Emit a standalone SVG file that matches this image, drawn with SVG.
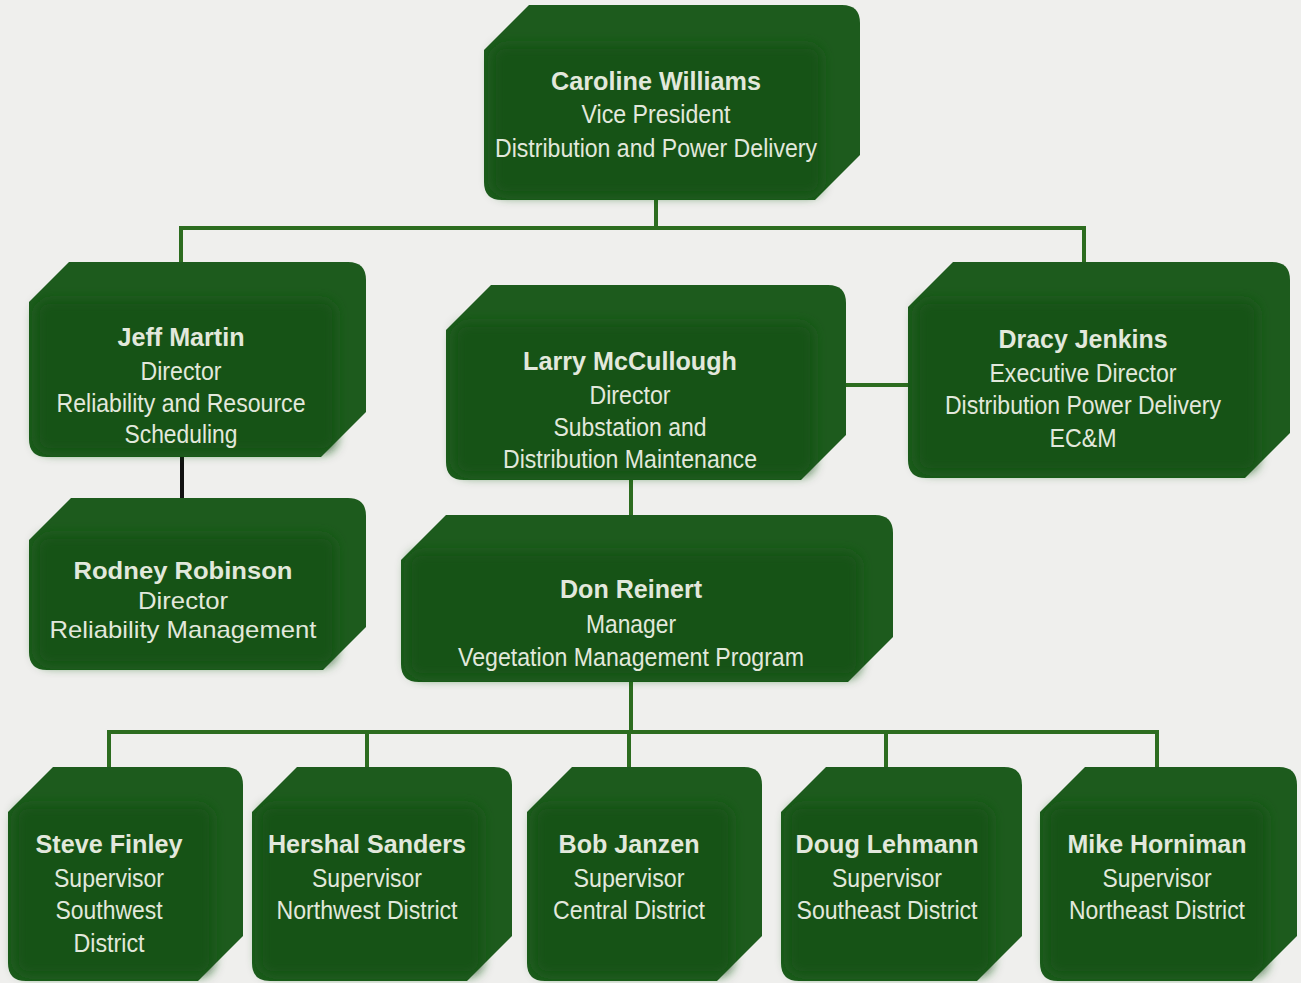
<svg xmlns="http://www.w3.org/2000/svg" width="1301" height="983" viewBox="0 0 1301 983">
<style>
.box{fill:#1d5b1d}
.face{fill:#195219;filter:url(#soft)}
.t{font-family:"Liberation Sans",Arial,sans-serif;font-size:26px;fill:#e2e8dc;text-anchor:middle}
.n{font-weight:bold}
.c{stroke:#2c6c1f;stroke-width:4;fill:none}
.k{stroke:#111;stroke-width:4;fill:none}
</style>
<defs>
<filter id="soft" x="-10%" y="-10%" width="120%" height="120%"><feGaussianBlur stdDeviation="6"/></filter>
</defs>
<rect width="1301" height="983" fill="#efefed"/>
<g id="connectors">
<path class="c" d="M656 200V228M181 228H1084M181 226V262M1084 226V262"/>
<path class="k" d="M182 457V498"/>
<path class="c" d="M846 385H910M631 480V515M631 682V732M109 732H1157M109 730V767M367 730V767M629 730V767M886 730V767M1157 730V767"/>
</g>
<g id="caroline">
<path class="box" d="M529 5H842Q860 5 860 23V155L815 200H502Q484 200 484 182V50Z"/>
<rect class="face" x="492" y="45" width="330" height="150" rx="14"/>
<text class="t n" x="656" y="90" textLength="210" lengthAdjust="spacingAndGlyphs">Caroline Williams</text>
<text class="t" x="656" y="123" textLength="149" lengthAdjust="spacingAndGlyphs">Vice President</text>
<text class="t" x="656" y="157" textLength="322" lengthAdjust="spacingAndGlyphs">Distribution and Power Delivery</text>
</g>
<g id="jeff">
<path class="box" d="M69 262H348Q366 262 366 280V412L321 457H47Q29 457 29 439V302Z"/>
<rect class="face" x="36" y="300" width="300" height="152" rx="14"/>
<text class="t n" x="181" y="346" textLength="127" lengthAdjust="spacingAndGlyphs">Jeff Martin</text>
<text class="t" x="181" y="380" textLength="81" lengthAdjust="spacingAndGlyphs">Director</text>
<text class="t" x="181" y="412" textLength="249" lengthAdjust="spacingAndGlyphs">Reliability and Resource</text>
<text class="t" x="181" y="443" textLength="113" lengthAdjust="spacingAndGlyphs">Scheduling</text>
</g>
<g id="rodney">
<path class="box" d="M71 498H348Q366 498 366 516V627L323 670H47Q29 670 29 652V540Z"/>
<rect class="face" x="36" y="535" width="300" height="130" rx="14"/>
<text class="t n" x="183" y="579" textLength="219" lengthAdjust="spacingAndGlyphs" style="font-size:24px">Rodney Robinson</text>
<text class="t" x="183" y="609" textLength="90" lengthAdjust="spacingAndGlyphs" style="font-size:24px">Director</text>
<text class="t" x="183" y="638" textLength="267" lengthAdjust="spacingAndGlyphs" style="font-size:24px">Reliability Management</text>
</g>
<g id="larry">
<path class="box" d="M491 285H828Q846 285 846 303V435L801 480H464Q446 480 446 462V330Z"/>
<rect class="face" x="454" y="323" width="360" height="152" rx="14"/>
<text class="t n" x="630" y="370" textLength="214" lengthAdjust="spacingAndGlyphs">Larry McCullough</text>
<text class="t" x="630" y="404" textLength="81" lengthAdjust="spacingAndGlyphs">Director</text>
<text class="t" x="630" y="436" textLength="153" lengthAdjust="spacingAndGlyphs">Substation and</text>
<text class="t" x="630" y="468" textLength="254" lengthAdjust="spacingAndGlyphs">Distribution Maintenance</text>
</g>
<g id="dracy">
<path class="box" d="M953 262H1272Q1290 262 1290 280V433L1245 478H926Q908 478 908 460V307Z"/>
<rect class="face" x="916" y="300" width="342" height="172" rx="14"/>
<text class="t n" x="1083" y="348" textLength="169" lengthAdjust="spacingAndGlyphs">Dracy Jenkins</text>
<text class="t" x="1083" y="382" textLength="187" lengthAdjust="spacingAndGlyphs">Executive Director</text>
<text class="t" x="1083" y="414" textLength="276" lengthAdjust="spacingAndGlyphs">Distribution Power Delivery</text>
<text class="t" x="1083" y="447" textLength="67" lengthAdjust="spacingAndGlyphs">EC&amp;M</text>
</g>
<g id="don">
<path class="box" d="M446 515H875Q893 515 893 533V637L848 682H419Q401 682 401 664V560Z"/>
<rect class="face" x="408" y="552" width="452" height="125" rx="14"/>
<text class="t n" x="631" y="598" textLength="142" lengthAdjust="spacingAndGlyphs">Don Reinert</text>
<text class="t" x="631" y="633" textLength="90" lengthAdjust="spacingAndGlyphs">Manager</text>
<text class="t" x="631" y="666" textLength="346" lengthAdjust="spacingAndGlyphs">Vegetation Management Program</text>
</g>
<g id="steve">
<path class="box" d="M53 767H225Q243 767 243 785V936L198 981H26Q8 981 8 963V812Z"/>
<rect class="face" x="15" y="805" width="198" height="170" rx="14"/>
<text class="t n" x="109" y="853" textLength="147" lengthAdjust="spacingAndGlyphs">Steve Finley</text>
<text class="t" x="109" y="887" textLength="110" lengthAdjust="spacingAndGlyphs">Supervisor</text>
<text class="t" x="109" y="919" textLength="107" lengthAdjust="spacingAndGlyphs">Southwest</text>
<text class="t" x="109" y="952" textLength="71" lengthAdjust="spacingAndGlyphs">District</text>
</g>
<g id="hershal">
<path class="box" d="M297 767H494Q512 767 512 785V936L467 981H270Q252 981 252 963V812Z"/>
<rect class="face" x="259" y="805" width="223" height="170" rx="14"/>
<text class="t n" x="367" y="853" textLength="198" lengthAdjust="spacingAndGlyphs">Hershal Sanders</text>
<text class="t" x="367" y="887" textLength="110" lengthAdjust="spacingAndGlyphs">Supervisor</text>
<text class="t" x="367" y="919" textLength="181" lengthAdjust="spacingAndGlyphs">Northwest District</text>
</g>
<g id="bob">
<path class="box" d="M572 767H744Q762 767 762 785V936L717 981H545Q527 981 527 963V812Z"/>
<rect class="face" x="534" y="805" width="198" height="170" rx="14"/>
<text class="t n" x="629" y="853" textLength="141" lengthAdjust="spacingAndGlyphs">Bob Janzen</text>
<text class="t" x="629" y="887" textLength="111" lengthAdjust="spacingAndGlyphs">Supervisor</text>
<text class="t" x="629" y="919" textLength="152" lengthAdjust="spacingAndGlyphs">Central District</text>
</g>
<g id="doug">
<path class="box" d="M826 767H1004Q1022 767 1022 785V936L977 981H799Q781 981 781 963V812Z"/>
<rect class="face" x="788" y="805" width="204" height="170" rx="14"/>
<text class="t n" x="887" y="853" textLength="183" lengthAdjust="spacingAndGlyphs">Doug Lehmann</text>
<text class="t" x="887" y="887" textLength="110" lengthAdjust="spacingAndGlyphs">Supervisor</text>
<text class="t" x="887" y="919" textLength="181" lengthAdjust="spacingAndGlyphs">Southeast District</text>
</g>
<g id="mike">
<path class="box" d="M1085 767H1279Q1297 767 1297 785V936L1252 981H1058Q1040 981 1040 963V812Z"/>
<rect class="face" x="1047" y="805" width="220" height="170" rx="14"/>
<text class="t n" x="1157" y="853" textLength="179" lengthAdjust="spacingAndGlyphs">Mike Horniman</text>
<text class="t" x="1157" y="887" textLength="109" lengthAdjust="spacingAndGlyphs">Supervisor</text>
<text class="t" x="1157" y="919" textLength="176" lengthAdjust="spacingAndGlyphs">Northeast District</text>
</g>
</svg>
